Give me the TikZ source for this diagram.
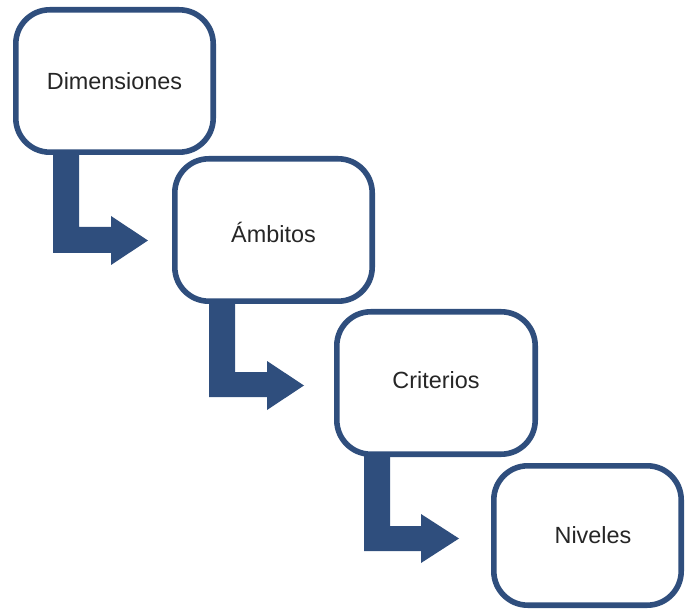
\documentclass[tikz,border=0pt]{standalone}
\usepackage{fontspec}
\setmainfont{Liberation Sans}
\definecolor{boxblue}{RGB}{47,78,125}
\definecolor{txtgray}{RGB}{38,38,38}
\begin{document}
\begin{tikzpicture}[x=1pt,y=-1pt,
  stepbox/.style={draw=boxblue,line width=5.6pt,fill=white,rounded corners=34pt,
    rectangle,inner sep=0pt,minimum width=197.4pt,minimum height=142.4pt},
  steptext/.style={text=txtgray,font=\fontsize{23.4pt}{28pt}\selectfont,inner sep=0pt},
  bentarrow/.style={fill=boxblue}]
\useasboundingbox (0,0) rectangle (685,609);
% bent arrows (drawn first, beneath the boxes)
\fill[bentarrow] (53,140) -- (79,140) -- (79,227) -- (111,227) -- (111,216) -- (148,240.5)
  -- (111,265) -- (111,253) -- (53,253) -- cycle;
\fill[bentarrow] (209,290) -- (235,290) -- (235,372) -- (267,372) -- (267,361) -- (304,385.5)
  -- (267,410) -- (267,397) -- (209,397) -- cycle;
\fill[bentarrow] (364,445) -- (390,445) -- (390,526) -- (421,526) -- (421,514) -- (459,538.5)
  -- (421,563) -- (421,551) -- (364,551) -- cycle;
% boxes
\node[stepbox] (b1) at (114.5,81) {};
\node[stepbox] (b2) at (273.5,230) {};
\node[stepbox,minimum width=198.4pt] (b3) at (436,383) {};
\node[stepbox,minimum width=187.4pt,minimum height=139.4pt] (b4) at (587.5,535.5) {};
% labels
\node[steptext] (t1) at ([yshift=-0.5pt]b1.center) {Dimensiones};
\node[steptext] (t2) at ([yshift=-2pt]b2.center) {Ámbitos};
\node[steptext] (t3) at ([yshift=3pt]b3.center) {Criterios};
\node[steptext] (t4) at ([xshift=5.5pt]b4.center) {Niveles};
\end{tikzpicture}
\end{document}
